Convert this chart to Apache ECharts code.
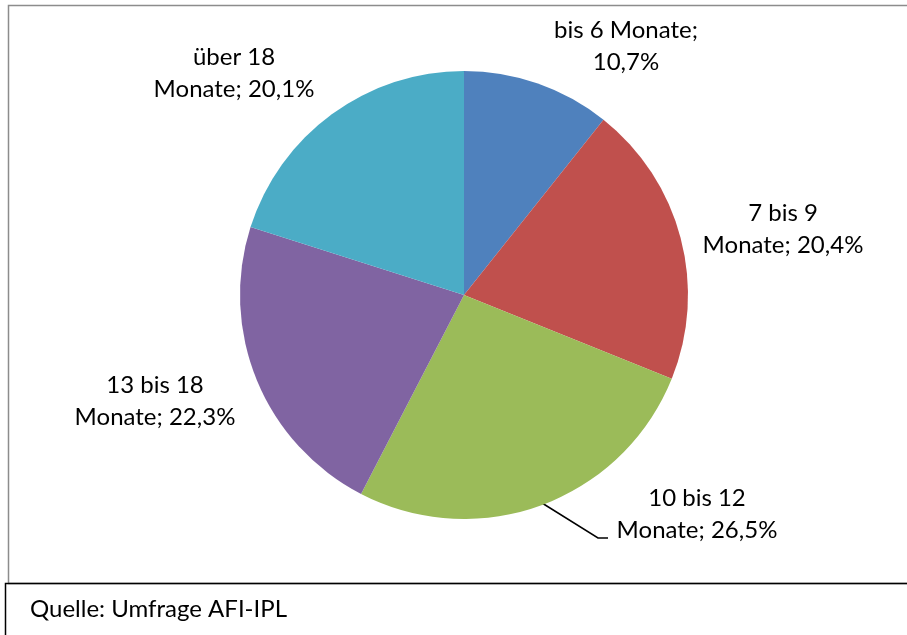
<!DOCTYPE html>
<html>
<head>
<meta charset="utf-8">
<script src="https://cdn.jsdelivr.net/npm/echarts@6/dist/echarts.min.js"></script>
<style>
  html, body { margin: 0; padding: 0; background: #fff; }
  #chart { width: 907px; height: 635px; }
</style>
</head>
<body>
<div id="chart"></div>
<script>
// data
const categories = ["bis 6 Monate", "7 bis 9 Monate", "10 bis 12 Monate", "13 bis 18 Monate", "über 18 Monate"];
const shares = [10.7, 20.4, 26.5, 22.3, 20.1];
const colors = ["#4F81BD", "#C0504D", "#9BBB59", "#8064A2", "#4BACC6"];

// where Excel put the labels (centre of the text block)
const labelCenters = [[626, 46], [783, 229], [697, 514], [155, 401], [234, 73]];

const fmt = v => v.toFixed(1).replace(".", ",") + "%";

const labelText = (name, v) => {
  if (name === "bis 6 Monate") {
    return name + ";\n" + fmt(v);
  }
  const i = name.indexOf("Monate");
  return name.slice(0, i).trim() + "\nMonate; " + fmt(v);
};

const chart = echarts.init(document.getElementById("chart"));
const font = "Lato, 'Open Sans', sans-serif";

chart.setOption({
  animation: false,
  color: colors,
  graphic: [
    {
      type: "rect",
      shape: { x: 8.5, y: 5.5, width: 910, height: 578 },
      style: { fill: "none", stroke: "#8c8c8c", lineWidth: 1.5 }
    },
    {
      type: "polyline",
      shape: { points: [[5.5, 635], [5.5, 583.5], [907, 583.5]] },
      style: { fill: "none", stroke: "#000", lineWidth: 1.5 }
    },
    {
      type: "text",
      x: 30,
      y: 609,
      style: {
        text: "Quelle: Umfrage AFI-IPL",
        font: "24px " + font,
        fill: "#000",
        verticalAlign: "middle"
      }
    }
  ],
  series: [
    {
      type: "pie",
      center: [464, 295],
      radius: 224,
      startAngle: 90,
      clockwise: true,
      avoidLabelOverlap: false,
      itemStyle: { borderWidth: 0 },
      emphasis: { disabled: true },
      label: {
        show: true,
        position: "outside",
        fontFamily: font,
        fontSize: 24,
        lineHeight: 32,
        color: "#000",
        align: "center",
        formatter: p => labelText(p.name, p.value)
      },
      labelLine: { show: false },
      labelLayout: p => {
        const c = labelCenters[p.dataIndex];
        const out = { x: c[0], y: c[1], align: "center", verticalAlign: "middle" };
        if (p.dataIndex === 2) {
          out.labelLinePoints = [[542, 503], [598, 538], [608, 538]];
        }
        return out;
      },
      data: categories.map((name, i) => ({
        name,
        value: shares[i],
        labelLine: i === 2 ? { show: true, lineStyle: { color: "#000", width: 1.5 } } : { show: false }
      }))
    }
  ]
});
</script>
</body>
</html>
